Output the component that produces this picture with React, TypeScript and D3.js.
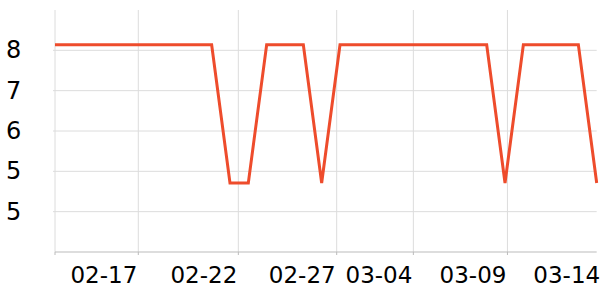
import React from "react";
import * as d3 from "d3";

// ---- data ----
const dates: string[] = [
  "2021-02-12", "2021-02-13", "2021-02-14", "2021-02-15", "2021-02-16",
  "2021-02-17", "2021-02-18", "2021-02-19", "2021-02-20", "2021-02-21",
  "2021-02-22", "2021-02-23", "2021-02-24", "2021-02-25", "2021-02-26",
  "2021-02-27", "2021-02-28", "2021-03-01", "2021-03-02", "2021-03-03",
  "2021-03-04", "2021-03-05", "2021-03-06", "2021-03-07", "2021-03-08",
  "2021-03-09", "2021-03-10", "2021-03-11", "2021-03-12", "2021-03-13",
  "2021-03-14",
];
const values: number[] = [
  7.91, 7.91, 7.91, 7.91, 7.91,
  7.91, 7.91, 7.91, 7.91, 7.91,
  5.17, 5.17, 7.91, 7.91, 7.91,
  5.17, 7.91, 7.91, 7.91, 7.91,
  7.91, 7.91, 7.91, 7.91, 7.91,
  5.17, 7.91, 7.91, 7.91, 7.91,
  5.17,
];
const xDomain: string[] = ["2021-02-12T10:57", "2021-03-14T00:00"];
const xTickTimes: string[] = [
  "2021-02-17T00:00", "2021-02-22T10:55", "2021-02-27T19:40",
  "2021-03-04T00:00", "2021-03-09T03:10", "2021-03-14T05:50",
];
const yDomain: number[] = [3.8, 8.6];
const yTicks: number[] = [4.6, 5.4, 6.2, 7.0, 7.8];

// ---- layout ----
const W = 600, H = 300;
const M = { left: 55, right: 3.3, top: 10, bottom: 48 };
const FONT = "'DejaVu Sans', sans-serif";

export default function App() {
  const parse = (s: string) => new Date(s);
  const x = d3
    .scaleTime()
    .domain(xDomain.map(parse) as [Date, Date])
    .range([M.left, W - M.right]);
  const y = d3
    .scaleLinear()
    .domain(yDomain as [number, number])
    .range([H - M.bottom, M.top]);

  const data = dates.map((d, i) => ({ t: parse(d + "T00:00"), v: values[i] }));
  const line = d3
    .line<{ t: Date; v: number }>()
    .x((d) => x(d.t))
    .y((d) => y(d.v));

  const fmtX = d3.timeFormat("%m-%d");
  const fmtY = d3.format(".0f");
  const x0 = M.left, x1 = W - M.right, y0 = H - M.bottom, y1 = M.top;

  return (
    <svg
      width={W}
      height={H}
      style={{ position: "absolute", left: 0, top: 0, background: "#fff" }}
      fontFamily={FONT}
    >
      <defs>
        <clipPath id="plot">
          <rect x={x0} y={y1 - 5} width={x1 - x0 + 2} height={y0 - y1 + 10} />
        </clipPath>
      </defs>
      {/* horizontal grid + y ticks */}
      {yTicks.map((t, i) => (
        <g key={"y" + i}>
          <line x1={x0 - 2} x2={x1} y1={y(t)} y2={y(t)} stroke="#dcdcdc" strokeWidth={1} />
          <text
            x={21.3}
            y={y(t)}
            textAnchor="end"
            dominantBaseline="central"
            fontSize={24}
            fill="#000"
          >
            {fmtY(t)}
          </text>
        </g>
      ))}
      {/* vertical grid + x ticks */}
      {xTickTimes.map((s, i) => {
        const xv = x(parse(s));
        return (
          <g key={"x" + i}>
            {xv <= x1 && (
              <line x1={xv} x2={xv} y1={y1} y2={y0} stroke="#dcdcdc" strokeWidth={1} />
            )}
            <line x1={xv} x2={xv} y1={y0} y2={y0 + 3} stroke="#bbb" strokeWidth={1} />
            <text x={xv - 1} y={283.3} textAnchor="end" fontSize={23} fill="#000">
              {fmtX(parse(s))}
            </text>
          </g>
        );
      })}
      {/* left axis */}
      <line x1={x0} x2={x0} y1={y1} y2={y0} stroke="#dcdcdc" strokeWidth={1} />
      <line x1={x0} x2={x0} y1={y0} y2={y0 + 3} stroke="#bbb" strokeWidth={1} />
      {/* bottom axis */}
      <line x1={x0} x2={x1} y1={y0} y2={y0} stroke="#bbb" strokeWidth={1} />
      {/* series */}
      <path
        d={line(data) || ""}
        fill="none"
        stroke="#ee4c2c"
        strokeWidth={3}
        strokeLinejoin="miter"
        clipPath="url(#plot)"
      />
    </svg>
  );
}
